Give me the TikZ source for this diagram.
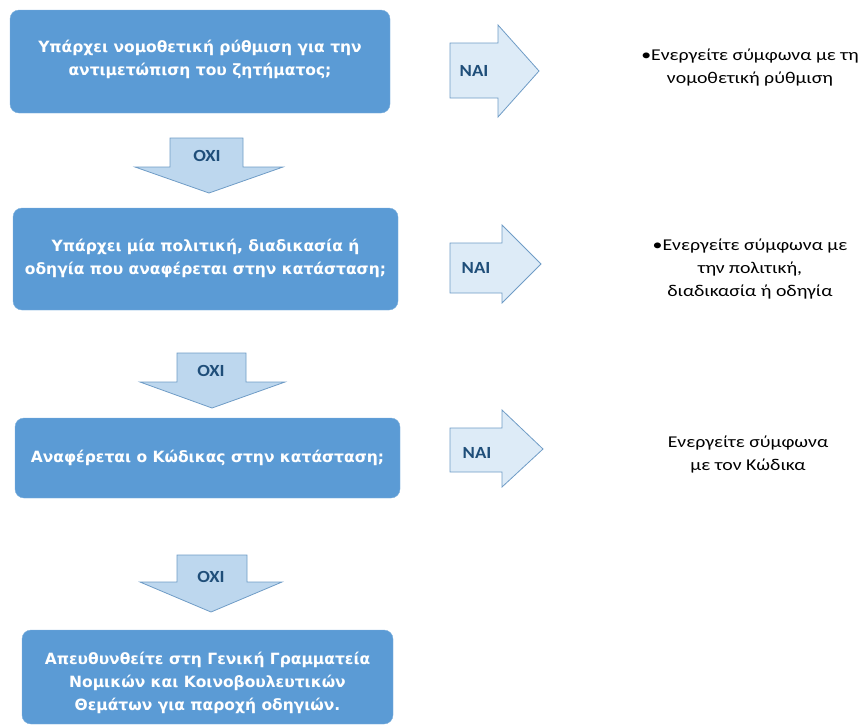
\documentclass[tikz,border=0pt]{standalone}
\usepackage{fontspec}
\setmainfont{Carlito}
\newfontfamily\qfont{DejaVu Sans}
\newfontfamily\afont[FakeStretch=1.2]{Carlito}
\newfontfamily\lfont[FakeStretch=1.1]{Carlito}
\definecolor{boxblue}{HTML}{5B9BD5}
\definecolor{downfill}{HTML}{BDD7EE}
\definecolor{rightfill}{HTML}{DDEBF7}
\definecolor{arrowline}{HTML}{6F9CC6}
\definecolor{labelblue}{HTML}{1F4E79}
\begin{document}
\begin{tikzpicture}[x=1pt,y=-1pt,
  qbox/.style={fill=boxblue, draw=boxblue!80!white, rounded corners=9pt, inner sep=0pt},
  qtext/.style={text=white, font=\qfont\fontsize{15.5}{23}\selectfont\bfseries, align=center, inner sep=0pt},
  downarrow/.style={fill=downfill, draw=arrowline, line width=0.8pt, line join=miter},
  rightarrow/.style={fill=rightfill, draw=arrowline, line width=0.8pt, line join=miter},
  alabel/.style={text=labelblue, font=\lfont\fontsize{17}{18}\selectfont\bfseries, inner sep=0pt},
  answer/.style={text=black, font=\afont\fontsize{16.5}{23}\selectfont, align=center, inner sep=0pt}]
\useasboundingbox (0,0) rectangle (866,724);

% question boxes
\node[qbox, minimum width=380pt, minimum height=103pt] (q1) at (200,61.5) {};
\node[qtext] (t1) at (q1) [yshift=2pt] {Υπάρχει νομοθετική ρύθμιση για την\\αντιμετώπιση του ζητήματος;};
\node[qbox, minimum width=385pt, minimum height=102pt] (q2) at (205.5,259) {};
\node[qtext] (t2) at (q2) [yshift=1pt] {Υπάρχει μία πολιτική, διαδικασία ή\\οδηγία που αναφέρεται στην κατάσταση;};
\node[qbox, minimum width=385pt, minimum height=80pt] (q3) at (207.5,458) {};
\node[qtext] (t3) at (q3) {Αναφέρεται ο Κώδικας στην κατάσταση;};
\node[qbox, minimum width=371pt, minimum height=94pt] (q4) at (207.5,677) {};
\node[qtext] (t4) at (q4) [yshift=-6pt] {Απευθυνθείτε στη Γενική Γραμματεία\\Νομικών και Κοινοβουλευτικών\\Θεμάτων για παροχή οδηγιών.};

% down arrows (OXI)
\draw[downarrow] (170,138) -- (243,138) -- (243,167) -- (283,167) -- (209,193) -- (135,167) -- (170,167) -- cycle;
\node[alabel] (o1) at (207,156) {ΟΧΙ};
\draw[downarrow] (177,353) -- (246,353) -- (246,382) -- (285,382) -- (212,408) -- (140,382) -- (177,382) -- cycle;
\node[alabel] (o2) at (211,371) {ΟΧΙ};
\draw[downarrow] (177,555) -- (247,555) -- (247,582) -- (282,582) -- (211,612) -- (140,582) -- (177,582) -- cycle;
\node[alabel] (o3) at (211,577) {ΟΧΙ};

% right arrows (NAI)
\draw[rightarrow] (450,43) -- (498,43) -- (498,25) -- (539,71) -- (498,117) -- (498,98) -- (450,98) -- cycle;
\node[alabel] (n1) at (474,71) {ΝΑΙ};
\draw[rightarrow] (450,243) -- (502,243) -- (502,225) -- (541,264) -- (502,303) -- (502,293) -- (450,293) -- cycle;
\node[alabel] (n2) at (476,268) {ΝΑΙ};
\draw[rightarrow] (450,428) -- (502,428) -- (502,410) -- (543,449) -- (502,487) -- (502,472) -- (450,472) -- cycle;
\node[alabel] (n3) at (477,453) {ΝΑΙ};

% answers
\node[answer] (a1) at (750,68) {•Ενεργείτε σύμφωνα με τη\\νομοθετική ρύθμιση};
\node[answer] (a2) at (750,269) {•Ενεργείτε σύμφωνα με\\την πολιτική,\\διαδικασία ή οδηγία};
\node[answer] (a3) at (748,455) {Ενεργείτε σύμφωνα\\με τον Κώδικα};
\end{tikzpicture}
\end{document}
